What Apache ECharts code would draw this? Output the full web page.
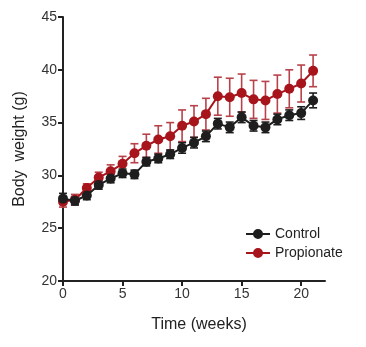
<!DOCTYPE html>
<html><head><meta charset="utf-8">
<script src="https://cdn.jsdelivr.net/npm/echarts@6/dist/echarts.min.js"></script>
<style>html,body{margin:0;padding:0;background:#fff}#c{width:366px;height:347px}</style>
</head><body><div id="c"></div>
<script>
var weeks = [0,1,2,3,4,5,6,7,8,9,10,11,12,13,14,15,16,17,18,19,20,21];
var controlMean = [27.8,27.6,28.1,29.1,29.7,30.2,30.1,31.3,31.6,32.0,32.6,33.1,33.7,34.9,34.55,35.5,34.7,34.55,35.3,35.7,35.9,37.1];
var controlErr  = [0.5,0.4,0.4,0.4,0.4,0.4,0.4,0.4,0.4,0.4,0.5,0.5,0.5,0.5,0.5,0.5,0.5,0.5,0.5,0.5,0.6,0.7];
var propMean = [27.5,27.7,28.8,29.8,30.4,31.1,32.1,32.8,33.4,33.7,34.7,35.1,35.8,37.5,37.4,37.8,37.2,37.1,37.7,38.2,38.7,39.9];
var propErr  = [0.5,0.5,0.4,0.5,0.6,0.7,0.9,1.1,1.3,1.3,1.5,1.5,1.5,1.8,1.8,1.8,1.8,1.8,1.8,1.8,1.75,1.5];
var xTicks = [0,5,10,15,20];
var yTicks = [20,25,30,35,40,45];

var CTRL = '#1e1e1e', PROP = '#a8141c', PROP_ERR = '#b8424a';
var LEGEND_ICON = 'path://M0,4h8v2h-8z M16,4h8v2h-8z M7,5a5,5 0 1,1 10,0a5,5 0 1,1 -10,0z';

function errData(mean, err){
  return weeks.map(function(w,i){ return [w, mean[i]-err[i], mean[i]+err[i]]; });
}
function errSeries(name, mean, err, color){
  return {
    type:'custom', name:name, z:1,
    data: errData(mean, err),
    encode:{x:0, y:[1,2]},
    itemStyle:{color:color},
    silent:true,
    renderItem:function(params, api){
      var x = api.value(0);
      var lo = api.coord([x, api.value(1)]);
      var hi = api.coord([x, api.value(2)]);
      var hw = 4;
      var st = {stroke:color, lineWidth:1.6};
      return {type:'group', children:[
        {type:'line', shape:{x1:lo[0],y1:lo[1],x2:hi[0],y2:hi[1]}, style:st},
        {type:'line', shape:{x1:lo[0]-hw,y1:lo[1],x2:lo[0]+hw,y2:lo[1]}, style:st},
        {type:'line', shape:{x1:hi[0]-hw,y1:hi[1],x2:hi[0]+hw,y2:hi[1]}, style:st}
      ]};
    }
  };
}

var chart = echarts.init(document.getElementById('c'));
chart.setOption({
  animation:false,
  textStyle:{fontFamily:'Liberation Sans, Arial, sans-serif'},
  grid:{left:63, right:41, top:17, bottom:66, containLabel:false},
  legend:{
    orient:'vertical', left:241, top:222, itemGap:5, itemWidth:24, itemHeight:10,
    data:[{name:'Control', icon:LEGEND_ICON},{name:'Propionate', icon:LEGEND_ICON}],
    textStyle:{fontSize:14, color:'#222', fontFamily:'Liberation Sans, Arial, sans-serif'}
  },
  xAxis:{
    type:'value', min:0, max:22, interval:5,
    name:'Time (weeks)', nameLocation:'middle', nameGap:30,
    nameTextStyle:{fontSize:16, color:'#222', padding:[6,0,0,10]},
    axisLine:{lineStyle:{color:'#222', width:2}},
    axisTick:{length:5, lineStyle:{color:'#222', width:2}, customValues:xTicks},
    axisLabel:{fontSize:14, color:'#333', margin:6, customValues:xTicks},
    splitLine:{show:false}
  },
  yAxis:{
    type:'value', min:20, max:45, interval:5,
    name:'Body  weight (g)', nameLocation:'middle', nameGap:35,
    nameTextStyle:{fontSize:16, color:'#222'},
    axisLine:{lineStyle:{color:'#222', width:2}},
    axisTick:{length:5, lineStyle:{color:'#222', width:2}, customValues:yTicks},
    axisLabel:{fontSize:14, color:'#333', margin:6, customValues:yTicks},
    splitLine:{show:false}
  },
  series:[
    errSeries('Propionate SEM', propMean, propErr, PROP_ERR),
    {
      type:'line', name:'Propionate', z:2,
      data: weeks.map(function(w,i){return [w, propMean[i]];}),
      symbol:'circle', symbolSize:10,
      lineStyle:{color:PROP, width:2},
      itemStyle:{color:PROP}
    },
    errSeries('Control SEM', controlMean, controlErr, CTRL),
    {
      type:'line', name:'Control', z:3,
      data: weeks.map(function(w,i){return [w, controlMean[i]];}),
      symbol:'circle', symbolSize:10,
      lineStyle:{color:CTRL, width:2},
      itemStyle:{color:CTRL}
    }
  ]
});
</script>
</body></html>
